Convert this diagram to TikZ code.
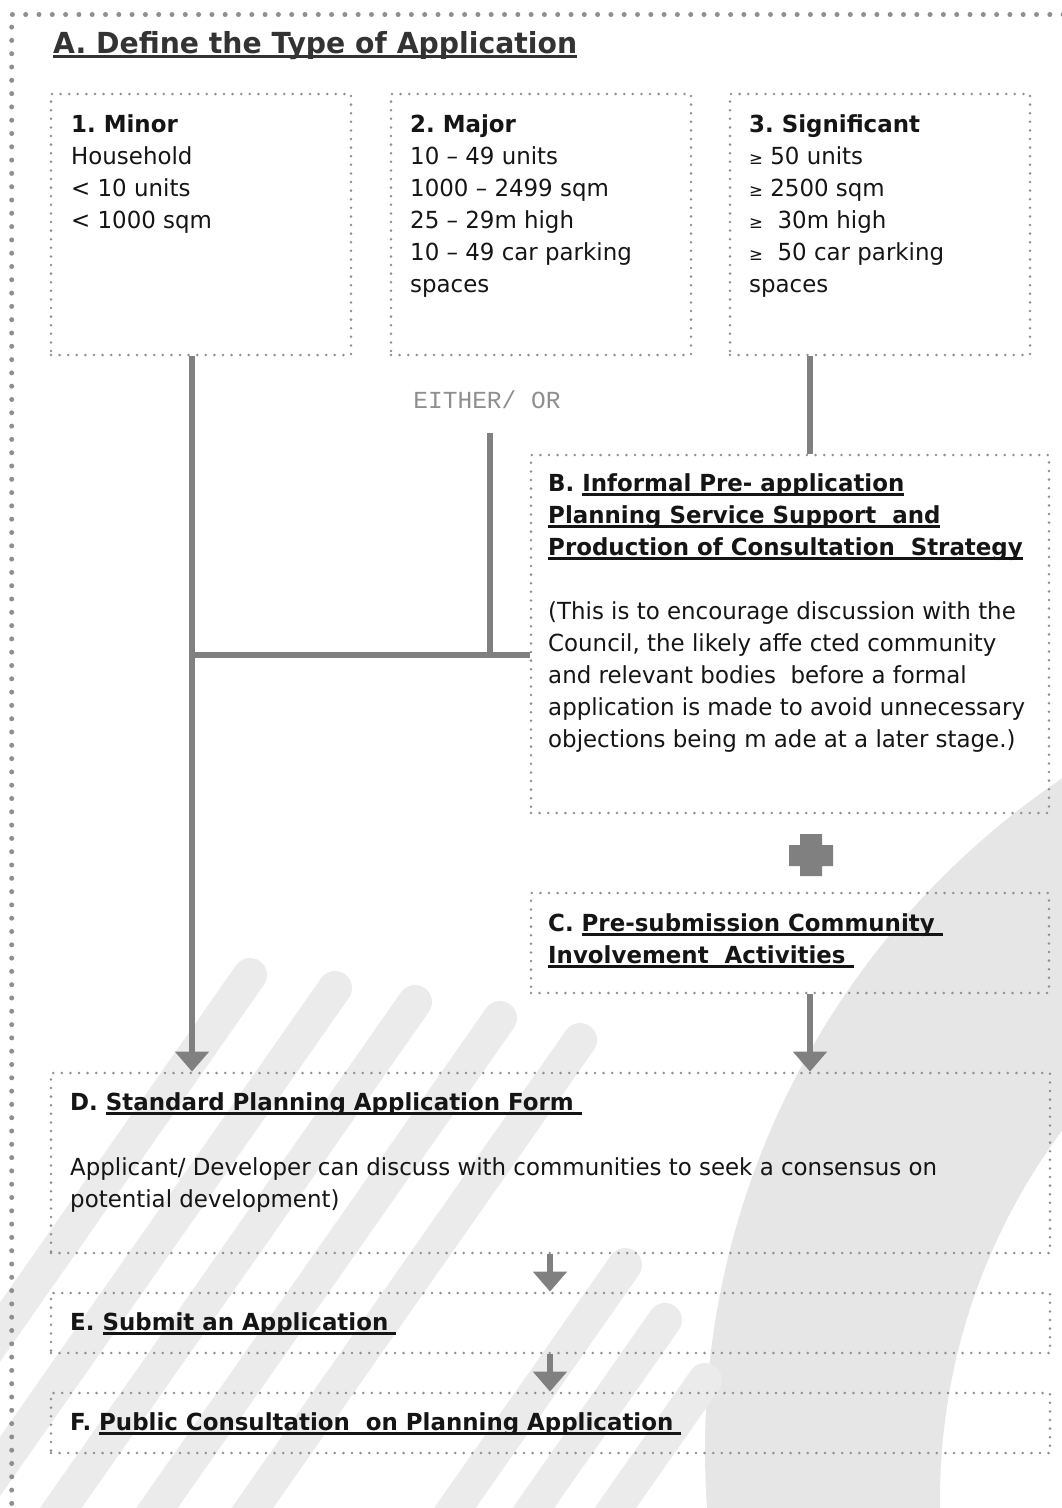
\documentclass[tikz,border=0pt]{standalone}
\usepackage{fontspec}
\setmainfont{DejaVu Sans}[FakeStretch=0.975]
\newfontfamily\eitherfont{Liberation Mono}
\usetikzlibrary{arrows.meta,fit,calc}
\frenchspacing
\newsavebox\undlbox
\newcommand{\undl}[1]{\sbox\undlbox{#1}\rlap{\vrule height -2pt depth 5pt width \wd\undlbox}\usebox\undlbox}
\newcommand{\bodysize}{\fontsize{23.5}{32}\selectfont}
\newcommand{\atleast}{{\fontsize{17}{32}\selectfont ≥}}
\definecolor{dotgray}{HTML}{8F8F8F}
\definecolor{linegray}{HTML}{808080}
\definecolor{markgray}{HTML}{E6E6E6}
\definecolor{stripegray}{HTML}{EBEBEB}
\definecolor{inkgray}{HTML}{151515}
\definecolor{titlegray}{HTML}{333333}
\tikzset{
  stagebox/.style={draw=dotgray, line width=2.8pt, dash pattern=on 0pt off 8.6pt, line cap=round, inner sep=0pt, fit={#1}},
  framedots/.style={draw=dotgray, line width=5pt, dash pattern=on 0pt off 13.3pt, line cap=round},
  txt/.style={inner sep=0pt, anchor=base west, align=left, font=\bodysize, text=inkgray},
  conn/.style={draw=linegray, line width=5.5pt},
  arr/.style={conn, -{Triangle[width=33pt,length=20pt]}}
}
\begin{document}
\begin{tikzpicture}[x=1pt, y=-1pt, line join=round]
	\useasboundingbox (0,0) rectangle (1062,1508);
	\begin{scope}
	\clip (0,0) rectangle (1062,1508);
	\fill[markgray, even odd rule] (1515,1450) circle[radius=810pt] (1560,1500) circle[radius=620pt];
	\foreach \sx/\sy in {250/975, 335/988, 415/1002, 500/1018, 580/1040, 625/1265, 665/1320, 705/1380}
		\draw[stripegray, line width=34pt, line cap=round] (\sx,\sy) -- ++(-600,857);
	\end{scope}
	\draw[framedots] (11.7,1530) -- (11.7,14.5) -- (1090,14.5);
	\node[txt, font=\fontsize{29}{34}\selectfont\bfseries, text=titlegray] (title) at (53,53) {\undl{A. Define the Type of Application}};
	% type boxes (base anchor = last line)
	\node[stagebox={(51,94) (351,355)}] (minor) {};
	\node[stagebox={(391,94) (691,355)}] (major) {};
	\node[stagebox={(730,94) (1030,355)}] (signif) {};
	\node[txt] (minor-t) at (71,228) {\textbf{1. Minor}\\Household\\< 10 units\\< 1000 sqm};
	\node[txt] (major-t) at (410,292) {\textbf{2. Major}\\10 – 49 units\\1000 – 2499 sqm\\25 – 29m high\\10 – 49 car parking\\spaces};
	\node[txt] (signif-t) at (749,292) {\textbf{3. Significant}\\\atleast{} 50 units\\\atleast{} 2500 sqm\\\atleast{}\ \ 30m high\\\atleast{}\ \ 50 car parking\\spaces};
	\node[txt, anchor=center, font=\fontsize{24.5}{30}\selectfont\eitherfont, text=dotgray] (eitheror) at (487,400) {EITHER/ OR};
	% stage boxes
	\node[stagebox={(531,455) (1049,813)}] (infpre) {};
	\node[stagebox={(531,893) (1049,993)}] (presub) {};
	\node[stagebox={(51,1073) (1050,1253)}] (stdform) {};
	\node[stagebox={(51,1293) (1050,1353)}] (submit) {};
	\node[stagebox={(51,1393) (1050,1453)}] (public) {};
	\node[txt] (infpre-h) at (548,555) {\textbf{B. \undl{Informal Pre- application}}\\\textbf{\undl{Planning Service Support\ \ and}}\\\textbf{\undl{Production of Consultation\ \ Strategy}}};
	\node[txt] (infpre-t) at (548,747) {(This is to encourage discussion with the\\Council, the likely affe cted community\\and relevant bodies\ \ before a formal\\application is made to avoid unnecessary\\objections being m ade at a later stage.)};
	\node[txt] (presub-h) at (548,963) {\textbf{C. \undl{Pre-submission Community\ }}\\\textbf{\undl{Involvement\ \ Activities\ }}};
	\node[txt] (stdform-h) at (70,1110) {\textbf{D. \undl{Standard Planning Application Form\ }}};
	\node[txt] (stdform-t) at (70,1207) {Applicant/ Developer can discuss with communities to seek a consensus on\\potential development)};
	\node[txt] (submit-h) at (70,1330) {\textbf{E. \undl{Submit an Application\ }}};
	\node[txt] (public-h) at (70,1430) {\textbf{F. \undl{Public Consultation\ \ on Planning Application\ }}};
	% connectors
	\coordinate (jn) at (192,655);
	\coordinate (either) at (490,433);
	\coordinate (xr) at (810,0);
	\coordinate (xm) at (550,0);
	\draw[arr] (minor.south -| jn) -- (stdform.north -| jn);
	\draw[conn] (jn) -- (jn -| infpre.west);
	\draw[conn] (either) -- (either |- jn);
	\draw[conn] (signif.south -| xr) -- (infpre.north -| xr);
	\fill[linegray] (800,834) rectangle (822,876) (789,845) rectangle (833,866);
	\draw[arr] (presub.south -| xr) -- (stdform.north -| xr);
	\foreach \a/\b in {stdform/submit, submit/public}
		\draw[arr] (\a.south -| xm) -- (\b.north -| xm);
\end{tikzpicture}
\end{document}
